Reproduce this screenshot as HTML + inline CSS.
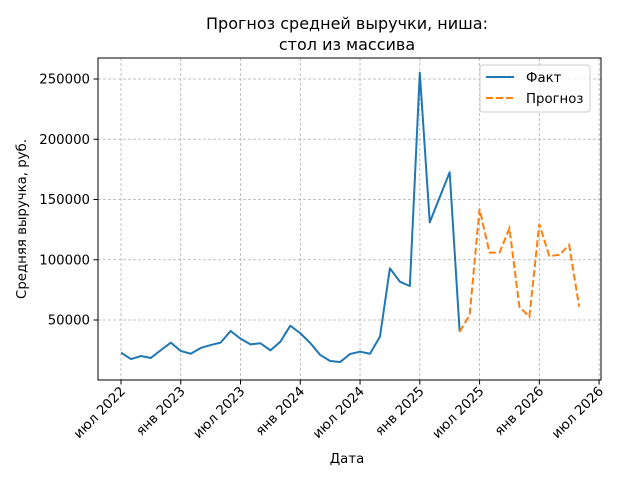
<!DOCTYPE html>
<html><head><meta charset="utf-8">
<style>body{margin:0;background:#fff}svg{display:block;font-family:"DejaVu Sans","Liberation Sans",sans-serif}</style>
</head><body>
<svg id="chart" width="640" height="480" viewBox="0 0 640 480" xmlns="http://www.w3.org/2000/svg">
<text x="347" y="29" font-size="16" text-anchor="middle">Прогноз средней выручки, ниша:</text>
<text x="347" y="50" font-size="16" text-anchor="middle">стол из массива</text>
<g id="grid"></g>
<g id="marks"></g>
<rect x="98" y="58" width="503" height="322" fill="none" stroke="#000" stroke-width="1"/>
<g id="axes"></g>
<text x="347" y="463" font-size="13.3" text-anchor="middle">Дата</text>
<text transform="translate(26,219) rotate(-90)" font-size="13.3" text-anchor="middle">Средняя выручка, руб.</text>
<g>
<rect x="480" y="65" width="110" height="47" rx="3" fill="#fff" fill-opacity="0.8" stroke="#ccc"/>
<line x1="486" y1="77" x2="514" y2="77" stroke="#1f77b4" stroke-width="2"/>
<text x="526" y="82" font-size="13.3">Факт</text>
<line x1="486" y1="98" x2="514" y2="98" stroke="#ff7f0e" stroke-width="2" stroke-dasharray="7,3"/>
<text x="526" y="103" font-size="13.3">Прогноз</text>
</g>
</svg>
<script>
const factValues=[22900,17600,20100,18500,25000,31200,24300,22000,26800,29200,31200,40900,34500,29800,30700,24800,32000,45300,39000,30900,21000,16000,15100,21800,23700,22000,36200,92900,81800,78200,255200,131000,152000,172600,40300];
const forecastValues=[40300,54100,142100,105900,105900,126100,61000,52700,129700,103100,104000,112200,61000];
const forecastStart=34;
const yTicks=[50000,100000,150000,200000,250000];
const xTickMonths=[0,6,12,18,24,30,36,42,48];
const xTickLabels=["июл 2022","янв 2023","июл 2023","янв 2024","июл 2024","янв 2025","июл 2025","янв 2026","июл 2026"];
const NS="http://www.w3.org/2000/svg";
const X=m=>121+m*9.96;
const Y=v=>320-(v-50000)*0.001205;
function mk(tag,attrs,parent){const e=document.createElementNS(NS,tag);for(const k in attrs)e.setAttribute(k,attrs[k]);parent.appendChild(e);return e;}
const grid=document.getElementById('grid'),axes=document.getElementById('axes'),marks=document.getElementById('marks');
yTicks.forEach(v=>{
  const g=mk('line',{x1:98,x2:601,y1:Y(v),y2:Y(v),stroke:'#b0b0b0','stroke-width':0.8,'stroke-dasharray':'3,2'},grid);
  
  
  const t=mk('line',{x1:93.5,x2:98,y1:Y(v),y2:Y(v),stroke:'#000'},axes);
  
  
  const l=mk('text',{x:90,y:Y(v)+4.5,'font-size':13.3,'text-anchor':'end'},axes);
  
  
  l.textContent=v;
});
xTickMonths.forEach((m,i)=>{
  const x=X(m);
  const g=mk('line',{x1:x,x2:x,y1:58,y2:380,stroke:'#b0b0b0','stroke-width':0.8,'stroke-dasharray':'3,2'},grid);
  
  
  const t=mk('line',{x1:x,x2:x,y1:380,y2:384.5,stroke:'#000'},axes);
  
  
  const l=mk('text',{transform:`translate(${x+5},${392}) rotate(-45)`,'font-size':13.3,'text-anchor':'end'},axes);
  
  
  l.textContent=xTickLabels[i];
});
const fp=mk('polyline',{points:factValues.map((v,i)=>X(i)+','+Y(v)).join(' '),fill:'none',stroke:'#1f77b4','stroke-width':2,'stroke-linejoin':'round'},marks);


const pp=mk('polyline',{points:forecastValues.map((v,i)=>X(forecastStart+i)+','+Y(v)).join(' '),fill:'none',stroke:'#ff7f0e','stroke-width':2,'stroke-dasharray':'7,3'},marks);


</script>
</body></html>
